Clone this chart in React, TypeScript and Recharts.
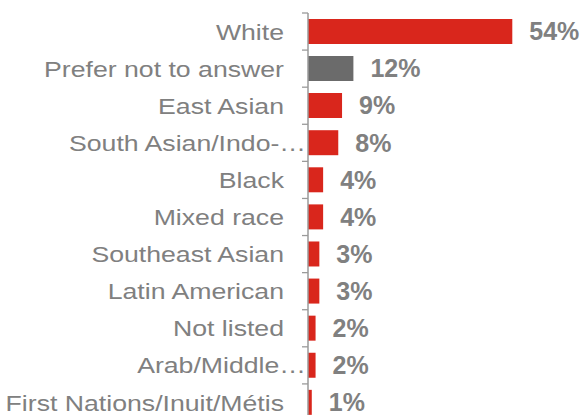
import React from 'react';
import { BarChart, Bar, XAxis, YAxis, LabelList, Cell } from 'recharts';

const categories = [
  'White',
  'Prefer not to answer',
  'East Asian',
  'South Asian/Indo-…',
  'Black',
  'Mixed race',
  'Southeast Asian',
  'Latin American',
  'Not listed',
  'Arab/Middle…',
  'First Nations/Inuit/Métis',
];
const shares = [54, 12, 9, 8, 4, 4, 3, 3, 2, 2, 1];
const xDomain = [0, 60];
const greyCategory = 'Prefer not to answer';

const data = categories.map((name, i) => ({ name, value: shares[i] }));

const CHART_W = 583;
const CHART_H = 430;
const MARGIN = { top: 13, right: 48, bottom: 9, left: 0 };
const BAND = (CHART_H - MARGIN.top - MARGIN.bottom) / categories.length;

const RED = '#d9261c';
const GREY_BAR = '#6b6b6b';
const TEXT = '#808080';
const AXIS = '#9a9a9a';

const CategoryTick = (props: any) => {
  const { x, y, payload, index } = props;
  const isLast = index === categories.length - 1;
  // truncated labels run their ellipsis up to the axis, like the source
  const truncated = String(payload.value).endsWith('…');
  const tx = truncated ? x - 2 : x - 24;
  return (
    <g>
      <line x1={x - 6} x2={x} y1={y - BAND / 2} y2={y - BAND / 2} stroke={AXIS} strokeWidth={1.3} />
      {isLast && <line x1={x - 6} x2={x} y1={y + BAND / 2} y2={y + BAND / 2} stroke={AXIS} strokeWidth={1.3} />}
      <text
        x={0}
        y={0}
        dy="0.36em"
        transform={`translate(${tx},${y}) scale(1.185,1)`}
        textAnchor="end"
        fontSize={22.5}
        fill={TEXT}
        fontFamily="'Liberation Sans', Arial, sans-serif"
      >
        {payload.value}
      </text>
    </g>
  );
};

export default function App() {
  return (
    <div style={{ position: 'absolute', left: 0, top: 0, width: CHART_W, height: 415, overflow: 'hidden', background: '#fff' }}>
      <BarChart width={CHART_W} height={CHART_H} data={data} layout="vertical" margin={MARGIN} barCategoryGap="16%">
        <XAxis type="number" domain={xDomain} hide />
        <YAxis
          type="category"
          dataKey="name"
          width={308}
          tickSize={0}
          tickMargin={0}
          tickLine={false}
          axisLine={{ stroke: AXIS, strokeWidth: 1.5 }}
          tick={<CategoryTick />}
          interval={0}
        />
        <Bar dataKey="value" isAnimationActive={false}>
          {data.map((d, i) => (
            <Cell key={`cell-${i}`} fill={d.name === greyCategory ? GREY_BAR : RED} />
          ))}
          <LabelList
            dataKey="value"
            position="right"
            offset={17}
            formatter={(v: any) => `${v}%`}
            style={{ fill: TEXT, fontSize: 25, fontWeight: 700, fontFamily: "'Liberation Sans', Arial, sans-serif" }}
          />
        </Bar>
      </BarChart>
    </div>
  );
}
